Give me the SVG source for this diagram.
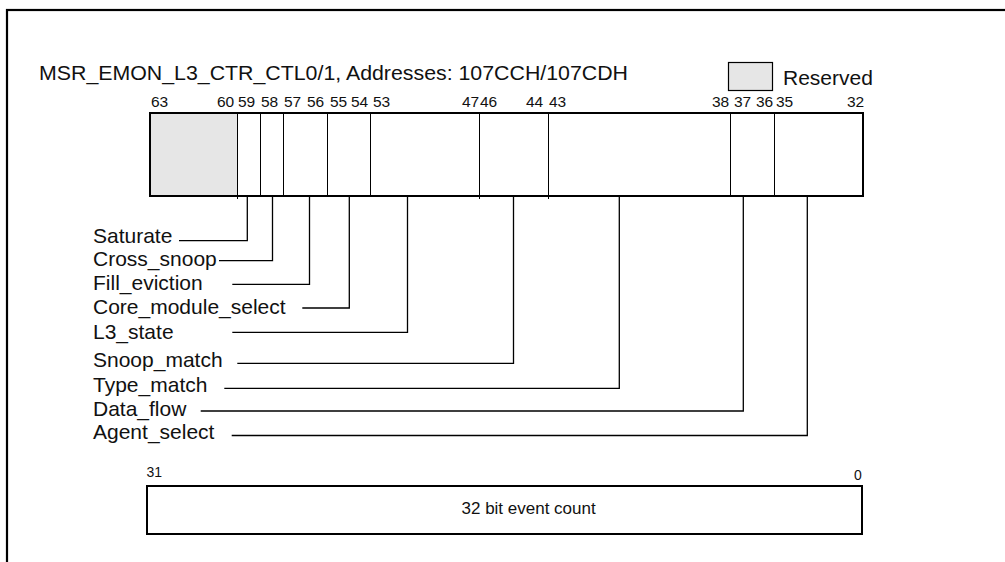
<svg xmlns="http://www.w3.org/2000/svg" width="1005" height="562" viewBox="0 0 1005 562">
<style>
text{font-family:"Liberation Sans",Arial,sans-serif;fill:#111}
.big{font-size:21px}
.num{font-size:15.5px}
.box{fill:#fff;stroke:#000;stroke-width:2}
.res{fill:#e6e6e6}
.div{stroke:#000;stroke-width:1;fill:none}
.lead{stroke:#000;stroke-width:1.3;fill:none}
</style>
<rect width="1005" height="562" fill="#fff"/>
<rect id="frame" x="7" y="10" width="1100" height="600" fill="none" stroke="#000" stroke-width="2.2"/>
<g id="title"><text class="big" x="39" y="80" textLength="589" lengthAdjust="spacingAndGlyphs">MSR_EMON_L3_CTR_CTL0/1, Addresses: 107CCH/107CDH</text></g>
<g id="legend">
<rect x="728.5" y="62.5" width="44" height="28" class="res" stroke="#000" stroke-width="1.2"/>
<text class="big" x="783" y="85">Reserved</text>
</g>
<g id="register-high">
<rect x="150" y="113" width="713" height="83" class="box"/>
<rect x="151" y="114" width="86" height="81" class="res"/>
<path class="div" d="M237.5 114V199M260.5 114V196M283.5 114V196M327.5 114V196M370.5 114V196M479.5 114V199M548.5 114V199M730.5 114V196M774.5 114V196"/>
<g id="bit-numbers">
<text class="num" x="151" y="107">63</text>
<text class="num" x="217" y="107">60</text>
<text class="num" x="238" y="107">59</text>
<text class="num" x="261" y="107">58</text>
<text class="num" x="284" y="107">57</text>
<text class="num" x="307" y="107">56</text>
<text class="num" x="330" y="107">55</text>
<text class="num" x="351" y="107">54</text>
<text class="num" x="373" y="107">53</text>
<text class="num" x="462" y="107">47</text>
<text class="num" x="480" y="107">46</text>
<text class="num" x="526" y="107">44</text>
<text class="num" x="549" y="107">43</text>
<text class="num" x="712" y="107">38</text>
<text class="num" x="734" y="107">37</text>
<text class="num" x="756" y="107">36</text>
<text class="num" x="776" y="107">35</text>
<text class="num" x="847" y="107">32</text>
</g>
</g>
<g id="fields">
<g id="f-saturate"><text class="big" x="93" y="243">Saturate</text></g>
<g id="f-cross-snoop"><text class="big" x="93" y="266">Cross_snoop</text></g>
<g id="f-fill-eviction"><text class="big" x="93" y="290">Fill_eviction</text></g>
<g id="f-core-module-select"><text class="big" x="93" y="314">Core_module_select</text></g>
<g id="f-l3-state"><text class="big" x="93" y="339">L3_state</text></g>
<g id="f-snoop-match"><text class="big" x="93" y="367">Snoop_match</text></g>
<g id="f-type-match"><text class="big" x="93" y="392">Type_match</text></g>
<g id="f-data-flow"><text class="big" x="93" y="416">Data_flow</text></g>
<g id="f-agent-select"><text class="big" x="93" y="438.5">Agent_select</text></g>
</g>
<g id="connectors">
<path class="lead" d="M179 240.7H247.3V196"/>
<path class="lead" d="M219 260.7H272.5V196"/>
<path class="lead" d="M232.3 284.3H309.5V196"/>
<path class="lead" d="M302.3 308H349.3V196"/>
<path class="lead" d="M232.3 332.3H407.5V196"/>
<path class="lead" d="M237.3 363.3H513.5V196"/>
<path class="lead" d="M224.3 388.3H619.3V196"/>
<path class="lead" d="M200.7 411H743.3V196"/>
<path class="lead" d="M231.7 435.5H807.3V196"/>
</g>
<g id="register-low">
<rect x="147" y="486" width="715" height="48" class="box"/>
<text style="font-size:14px" x="146.5" y="477">31</text>
<text style="font-size:14px" x="854" y="479.5">0</text>
<text style="font-size:17px" x="461.5" y="514">32 bit event count</text>
</g>
</svg>
